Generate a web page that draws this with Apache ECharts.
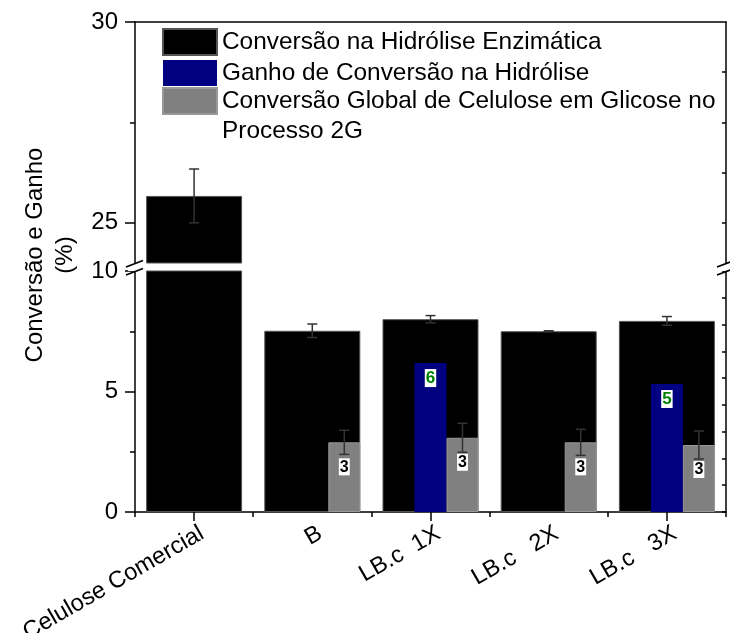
<!DOCTYPE html>
<html>
<head>
<meta charset="utf-8">
<script src="https://cdn.jsdelivr.net/npm/echarts@6/dist/echarts.min.js"></script>
<style>
  html, body { margin: 0; padding: 0; background: #fff; }
  #chart { width: 730px; height: 633px; }
</style>
</head>
<body>
<div id="chart"></div>
<script>
// Samples on the category axis
const categories = ['Celulose Comercial', 'B', 'LB.c  1X', 'LB.c   2X', 'LB.c   3X'];

// Enzymatic hydrolysis conversion (%) and its standard deviation
const hydrolysis = [25.67, 7.52, 8.00, 7.50, 7.93];
const hydrolysisErr = [0.67, 0.28, 0.15, 0.02, 0.18];

// Conversion gain in hydrolysis (%)
const gain = [null, null, 6.18, null, 5.31];

// Global cellulose-to-glucose conversion in the 2G process (%) and deviation
const globalConv = [null, 2.89, 3.08, 2.89, 2.78];
const globalErr = [null, 0.50, 0.60, 0.54, 0.58];

const names = [
  'Conversão na Hidrólise Enzimática',
  'Ganho de Conversão na Hidrólise',
  'Conversão Global de Celulose em Glicose no\nProcesso 2G'
];

// Axis tick values for the broken value axis
const upperLabels = [25, 30];
const upperMinor = [27.5];
const upperRightTicks = [25, 26.25, 27.5, 28.75];

const FONT = "'Liberation Sans', Arial, sans-serif";
const LINE = { color: '#000', width: 1.5 };
const BAR_W = 96, SUB_W = 32;

const chart = echarts.init(document.getElementById('chart'));

// Error bars: vertical whisker with caps, shifted by dx pixels from the category centre
function errorRenderer(dx) {
  return function (params, api) {
    const cat = api.value(0), v = api.value(1), e = api.value(2);
    if (v == null || isNaN(v)) return;
    const cs = params.coordSys;
    const hi = api.coord([cat, v + e]);
    const lo = api.coord([cat, v - e]);
    if (hi[1] < cs.y - 1 || lo[1] > cs.y + cs.height + 1) return;
    const x = hi[0] + dx, cap = 5;
    const st = { stroke: '#333', lineWidth: 1.5 };
    return {
      type: 'group',
      children: [
        { type: 'line', shape: { x1: x, y1: hi[1], x2: x, y2: lo[1] }, style: st },
        { type: 'line', shape: { x1: x - cap, y1: hi[1], x2: x + cap, y2: hi[1] }, style: st },
        { type: 'line', shape: { x1: x - cap, y1: lo[1], x2: x + cap, y2: lo[1] }, style: st }
      ]
    };
  };
}

const hydroErrData = hydrolysis.map((v, i) => [i, v, hydrolysisErr[i]]);
const globalErrData = globalConv.map((v, i) => [i, v == null ? NaN : v, globalErr[i] || 0]);

const legendText = { fontSize: 24.4, fontFamily: FONT, color: '#000' };

const option = {
  animation: false,
  backgroundColor: '#fff',
  textStyle: { fontFamily: FONT },
  grid: [
    { left: 135, right: 4, top: 22, height: 241, outerBoundsMode: 'none', containLabel: false },
    { left: 135, right: 4, top: 271, height: 241, outerBoundsMode: 'none', containLabel: false }
  ],
  legend: [
    {
      left: 162, top: 28, orient: 'vertical', icon: 'rect',
      itemWidth: 54, itemHeight: 26, itemGap: 4, padding: 0,
      textStyle: Object.assign({ lineHeight: 26 }, legendText),
      data: [names[0], names[1]]
    },
    { // wrapped entry: first line level with its swatch
      left: 162, top: 56, orient: 'vertical', icon: 'rect',
      itemWidth: 54, itemHeight: 26, itemGap: 4, padding: 0,
      textStyle: Object.assign({ lineHeight: 30 }, legendText),
      formatter: name => '\n' + name,
      data: [names[2]]
    }
  ],
  xAxis: [
    { // upper panel: frame line on top
      type: 'category', data: categories, gridIndex: 0, position: 'top',
      axisLine: { show: true, onZero: false, lineStyle: LINE },
      axisTick: { show: false }, axisLabel: { show: false }
    },
    { // lower panel: category labels, ticks at boundaries
      type: 'category', data: categories, gridIndex: 1, position: 'bottom',
      axisLine: { show: true, onZero: false, lineStyle: LINE },
      axisTick: { show: true, length: 5, lineStyle: LINE },
      axisLabel: {
        interval: 0, rotate: 30, margin: 6, fontSize: 23.6, color: '#000',
        fontFamily: FONT, verticalAlign: 'top', padding: [4, 0, 0, 0]
      }
    },
    { // lower panel: grouped sub-bars, ticks at centres
      type: 'category', data: categories, gridIndex: 1, position: 'bottom',
      axisLine: { show: false, onZero: false },
      axisTick: { show: true, alignWithLabel: true, length: 9, lineStyle: LINE },
      axisLabel: { show: false }
    }
  ],
  yAxis: [
    { // 0: upper left
      type: 'value', gridIndex: 0, position: 'left', min: 24, max: 30,
      axisLine: { show: true, onZero: false, lineStyle: LINE },
      axisTick: { show: true, length: 10, customValues: upperLabels, lineStyle: LINE },
      axisLabel: { customValues: upperLabels, fontSize: 24, color: '#000', margin: 17, fontFamily: FONT },
      splitLine: { show: false }
    },
    { // 1: upper left minor ticks
      type: 'value', gridIndex: 0, position: 'left', min: 24, max: 30,
      axisLine: { show: false },
      axisTick: { show: true, length: 5, customValues: upperMinor, lineStyle: LINE },
      axisLabel: { show: false }, splitLine: { show: false }
    },
    { // 2: upper right
      type: 'value', gridIndex: 0, position: 'right', min: 24, max: 30,
      axisLine: { show: true, onZero: false, lineStyle: LINE },
      axisTick: { show: true, inside: true, length: 4, customValues: upperRightTicks, lineStyle: LINE },
      axisLabel: { show: false }, splitLine: { show: false }
    },
    { // 3: lower left
      type: 'value', gridIndex: 1, position: 'left', min: 0, max: 10, interval: 5,
      axisLine: { show: true, onZero: false, lineStyle: LINE },
      axisTick: { show: true, length: 10, lineStyle: LINE },
      axisLabel: { fontSize: 24, color: '#000', margin: 17, fontFamily: FONT },
      splitLine: { show: false }
    },
    { // 4: lower left minor ticks
      type: 'value', gridIndex: 1, position: 'left', min: 0, max: 10, interval: 2.5,
      axisLine: { show: false },
      axisTick: { show: true, length: 5, lineStyle: LINE },
      axisLabel: { show: false }, splitLine: { show: false }
    },
    { // 5: lower right
      type: 'value', gridIndex: 1, position: 'right', min: 0, max: 9, interval: 1,
      axisLine: { show: true, onZero: false, lineStyle: LINE },
      axisTick: { show: true, inside: true, length: 4, lineStyle: LINE },
      axisLabel: { show: false }, splitLine: { show: false }
    }
  ],
  series: [
    {
      name: names[0], type: 'bar', xAxisIndex: 0, yAxisIndex: 0,
      data: hydrolysis, barWidth: BAR_W, clip: true, z: 2,
      itemStyle: { color: '#000', borderColor: '#555', borderWidth: 1 }
    },
    {
      name: names[0], type: 'bar', xAxisIndex: 1, yAxisIndex: 3,
      data: hydrolysis, barWidth: BAR_W, clip: true, z: 2,
      itemStyle: { color: '#000', borderColor: '#555', borderWidth: 1 }
    },
    { // empty left slot of the sub-bar group
      type: 'bar', xAxisIndex: 2, yAxisIndex: 3, data: categories.map(() => null),
      barWidth: SUB_W, barGap: '0%', silent: true
    },
    {
      name: names[1], type: 'bar', xAxisIndex: 2, yAxisIndex: 3,
      data: gain, barWidth: SUB_W, barGap: '0%', z: 3,
      itemStyle: { color: '#000080' },
      label: {
        show: true, position: 'insideTop', distance: 6,
        formatter: p => Math.round(p.value),
        color: '#008000', fontWeight: 'bold', fontSize: 17, fontFamily: FONT,
        backgroundColor: '#fff', padding: [1, 1, 0, 1]
      }
    },
    {
      name: names[2], type: 'bar', xAxisIndex: 2, yAxisIndex: 3,
      data: globalConv, barWidth: SUB_W, barGap: '0%', z: 3,
      itemStyle: { color: '#808080', borderColor: '#999', borderWidth: 1 },
      label: {
        show: true, position: 'insideTop', distance: 16,
        formatter: p => Math.round(p.value),
        color: '#000', fontWeight: 'bold', fontSize: 16, fontFamily: FONT,
        backgroundColor: '#fff', padding: [1, 1, 0, 1]
      }
    },
    {
      type: 'custom', xAxisIndex: 0, yAxisIndex: 0, z: 4, silent: true,
      renderItem: errorRenderer(0), encode: { x: 0, y: 1 }, data: hydroErrData
    },
    {
      type: 'custom', xAxisIndex: 1, yAxisIndex: 3, z: 4, silent: true,
      renderItem: errorRenderer(0), encode: { x: 0, y: 1 }, data: hydroErrData
    },
    {
      type: 'custom', xAxisIndex: 2, yAxisIndex: 3, z: 4, silent: true,
      renderItem: errorRenderer(SUB_W), encode: { x: 0, y: 1 }, data: globalErrData
    }
  ],
  graphic: [
    { // value-axis title
      type: 'text', x: 50, y: 255, rotation: Math.PI / 2,
      style: {
        text: 'Conversão e Ganho\n(%)', fill: '#000',
        font: "24px 'Liberation Sans', Arial, sans-serif",
        align: 'center', verticalAlign: 'middle', lineHeight: 30
      }
    },
    // axis break marks (left and right)
    { type: 'rect', shape: { x: 128, y: 264, width: 14, height: 7 }, style: { fill: '#fff' }, z: 50 },
    { type: 'line', shape: { x1: 126, y1: 267, x2: 143, y2: 260.5 }, style: { stroke: '#000', lineWidth: 1.8 }, z: 51 },
    { type: 'line', shape: { x1: 126, y1: 275, x2: 143, y2: 268.5 }, style: { stroke: '#000', lineWidth: 1.8 }, z: 51 },
    { type: 'rect', shape: { x: 719, y: 264, width: 11, height: 7 }, style: { fill: '#fff' }, z: 50 },
    { type: 'line', shape: { x1: 717, y1: 267, x2: 730, y2: 262 }, style: { stroke: '#000', lineWidth: 1.8 }, z: 51 },
    { type: 'line', shape: { x1: 717, y1: 275, x2: 730, y2: 270 }, style: { stroke: '#000', lineWidth: 1.8 }, z: 51 }
  ]
};

chart.setOption(option);
</script>
</body>
</html>
